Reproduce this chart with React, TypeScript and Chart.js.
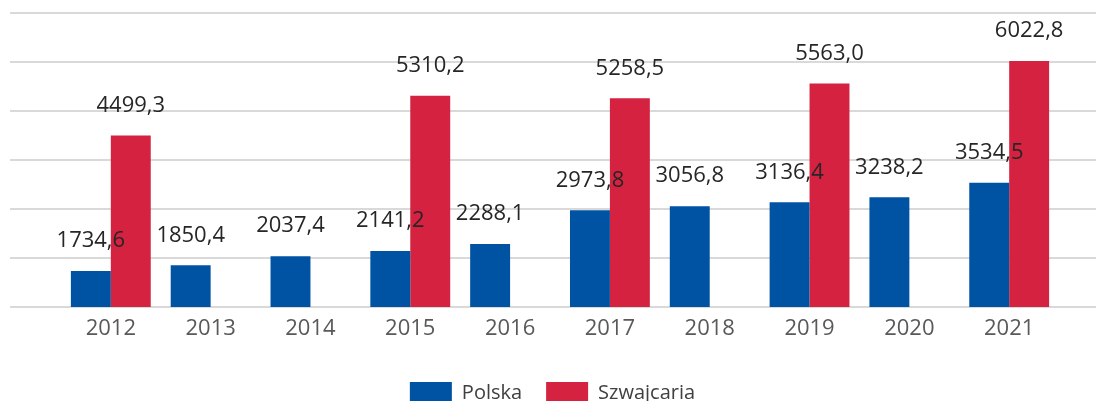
import React, { useEffect, useRef } from "react";
import { Chart, registerables } from "chart.js";

Chart.register(...registerables);

const years = [2012, 2013, 2014, 2015, 2016, 2017, 2018, 2019, 2020, 2021];
const polska = [1734.6, 1850.4, 2037.4, 2141.2, 2288.1, 2973.8, 3056.8, 3136.4, 3238.2, 3534.5];
const szwajcaria = [4499.3, null, null, 5310.2, null, 5258.5, null, 5563.0, null, 6022.8];
const seriesNames = ["Polska", "Szwajcaria"];

const FONT = "'Open Sans', 'Noto Sans', sans-serif";

const dataLabelPlugin = {
  id: "dataLabels",
  afterLayout(chart: any) {
    const l = chart.legend;
    if (l) {
      l.left -= 7;
      l.right -= 7;
    }
  },
  afterDatasetsDraw(chart: any) {
    const ctx = chart.ctx;
    ctx.save();
    ctx.font = `22px ${FONT}`;
    ctx.fillStyle = "#262626";
    ctx.textAlign = "center";
    ctx.textBaseline = "middle";
    chart.data.datasets.forEach((ds: any, di: number) => {
      const meta = chart.getDatasetMeta(di);
      meta.data.forEach((el: any, i: number) => {
        const v = ds.data[i].y;
        if (v === null || v === undefined) return;
        const txt = v.toFixed(1).replace(".", ",");
        ctx.fillText(txt, el.x, el.y - 30);
      });
    });
    ctx.restore();
  },
};

export default function App() {
  const ref = useRef<HTMLCanvasElement | null>(null);
  useEffect(() => {
    if (!ref.current) return;
    const chart = new Chart(ref.current, {
      type: "bar",
      data: {
        datasets: [
          {
            label: seriesNames[0],
            data: years.map((x, i) => ({ x, y: polska[i] })),
            backgroundColor: "#0052A3",
            borderWidth: 0,
            categoryPercentage: 0.8,
            barPercentage: 1.0,
          },
          {
            label: seriesNames[1],
            data: years.map((x, i) => ({ x, y: szwajcaria[i] })),
            backgroundColor: "#D42240",
            borderWidth: 0,
            categoryPercentage: 0.8,
            barPercentage: 1.0,
          },
        ],
      },
      options: {
        animation: false,
        responsive: true,
        maintainAspectRatio: false,
        layout: { padding: { left: 10, right: 1, top: 13, bottom: 0 } },
        scales: {
          x: {
            type: "linear",
            offset: false,
            min: 2010.99,
            max: 2022,
            afterBuildTicks: (scale: any) => {
              scale.ticks = years.map((v) => ({ value: v }));
            },
            afterFit: (scale: any) => {
              scale.height += 6.6;
            },
            grid: { display: false, drawTicks: false },
            border: { display: false },
            ticks: {
              color: "#595959",
              font: { size: 22, family: FONT },
              padding: 9,
              callback: (v: any) => String(v),
            },
          },
          y: {
            min: 1000,
            max: 7000,
            ticks: { display: false, stepSize: 1000 },
            grid: { color: "#d9d9d9", lineWidth: 2, drawTicks: false },
            border: { display: false },
          },
        },
        plugins: {
          legend: {
            position: "bottom",
            labels: {
              boxWidth: 42,
              boxHeight: 22,
              color: "#404040",
              font: { size: 20, family: FONT },
              padding: 24,
            },
          },
          tooltip: { enabled: false },
        },
      },
      plugins: [dataLabelPlugin],
    });
    return () => chart.destroy();
  }, []);
  return (
    <div style={{ position: "fixed", left: 0, top: 0, width: 1096, height: 401, overflow: "hidden", background: "#fff" }}>
      <div style={{ position: "relative", width: 1110, height: 414 }}>
        <canvas ref={ref} />
      </div>
    </div>
  );
}
